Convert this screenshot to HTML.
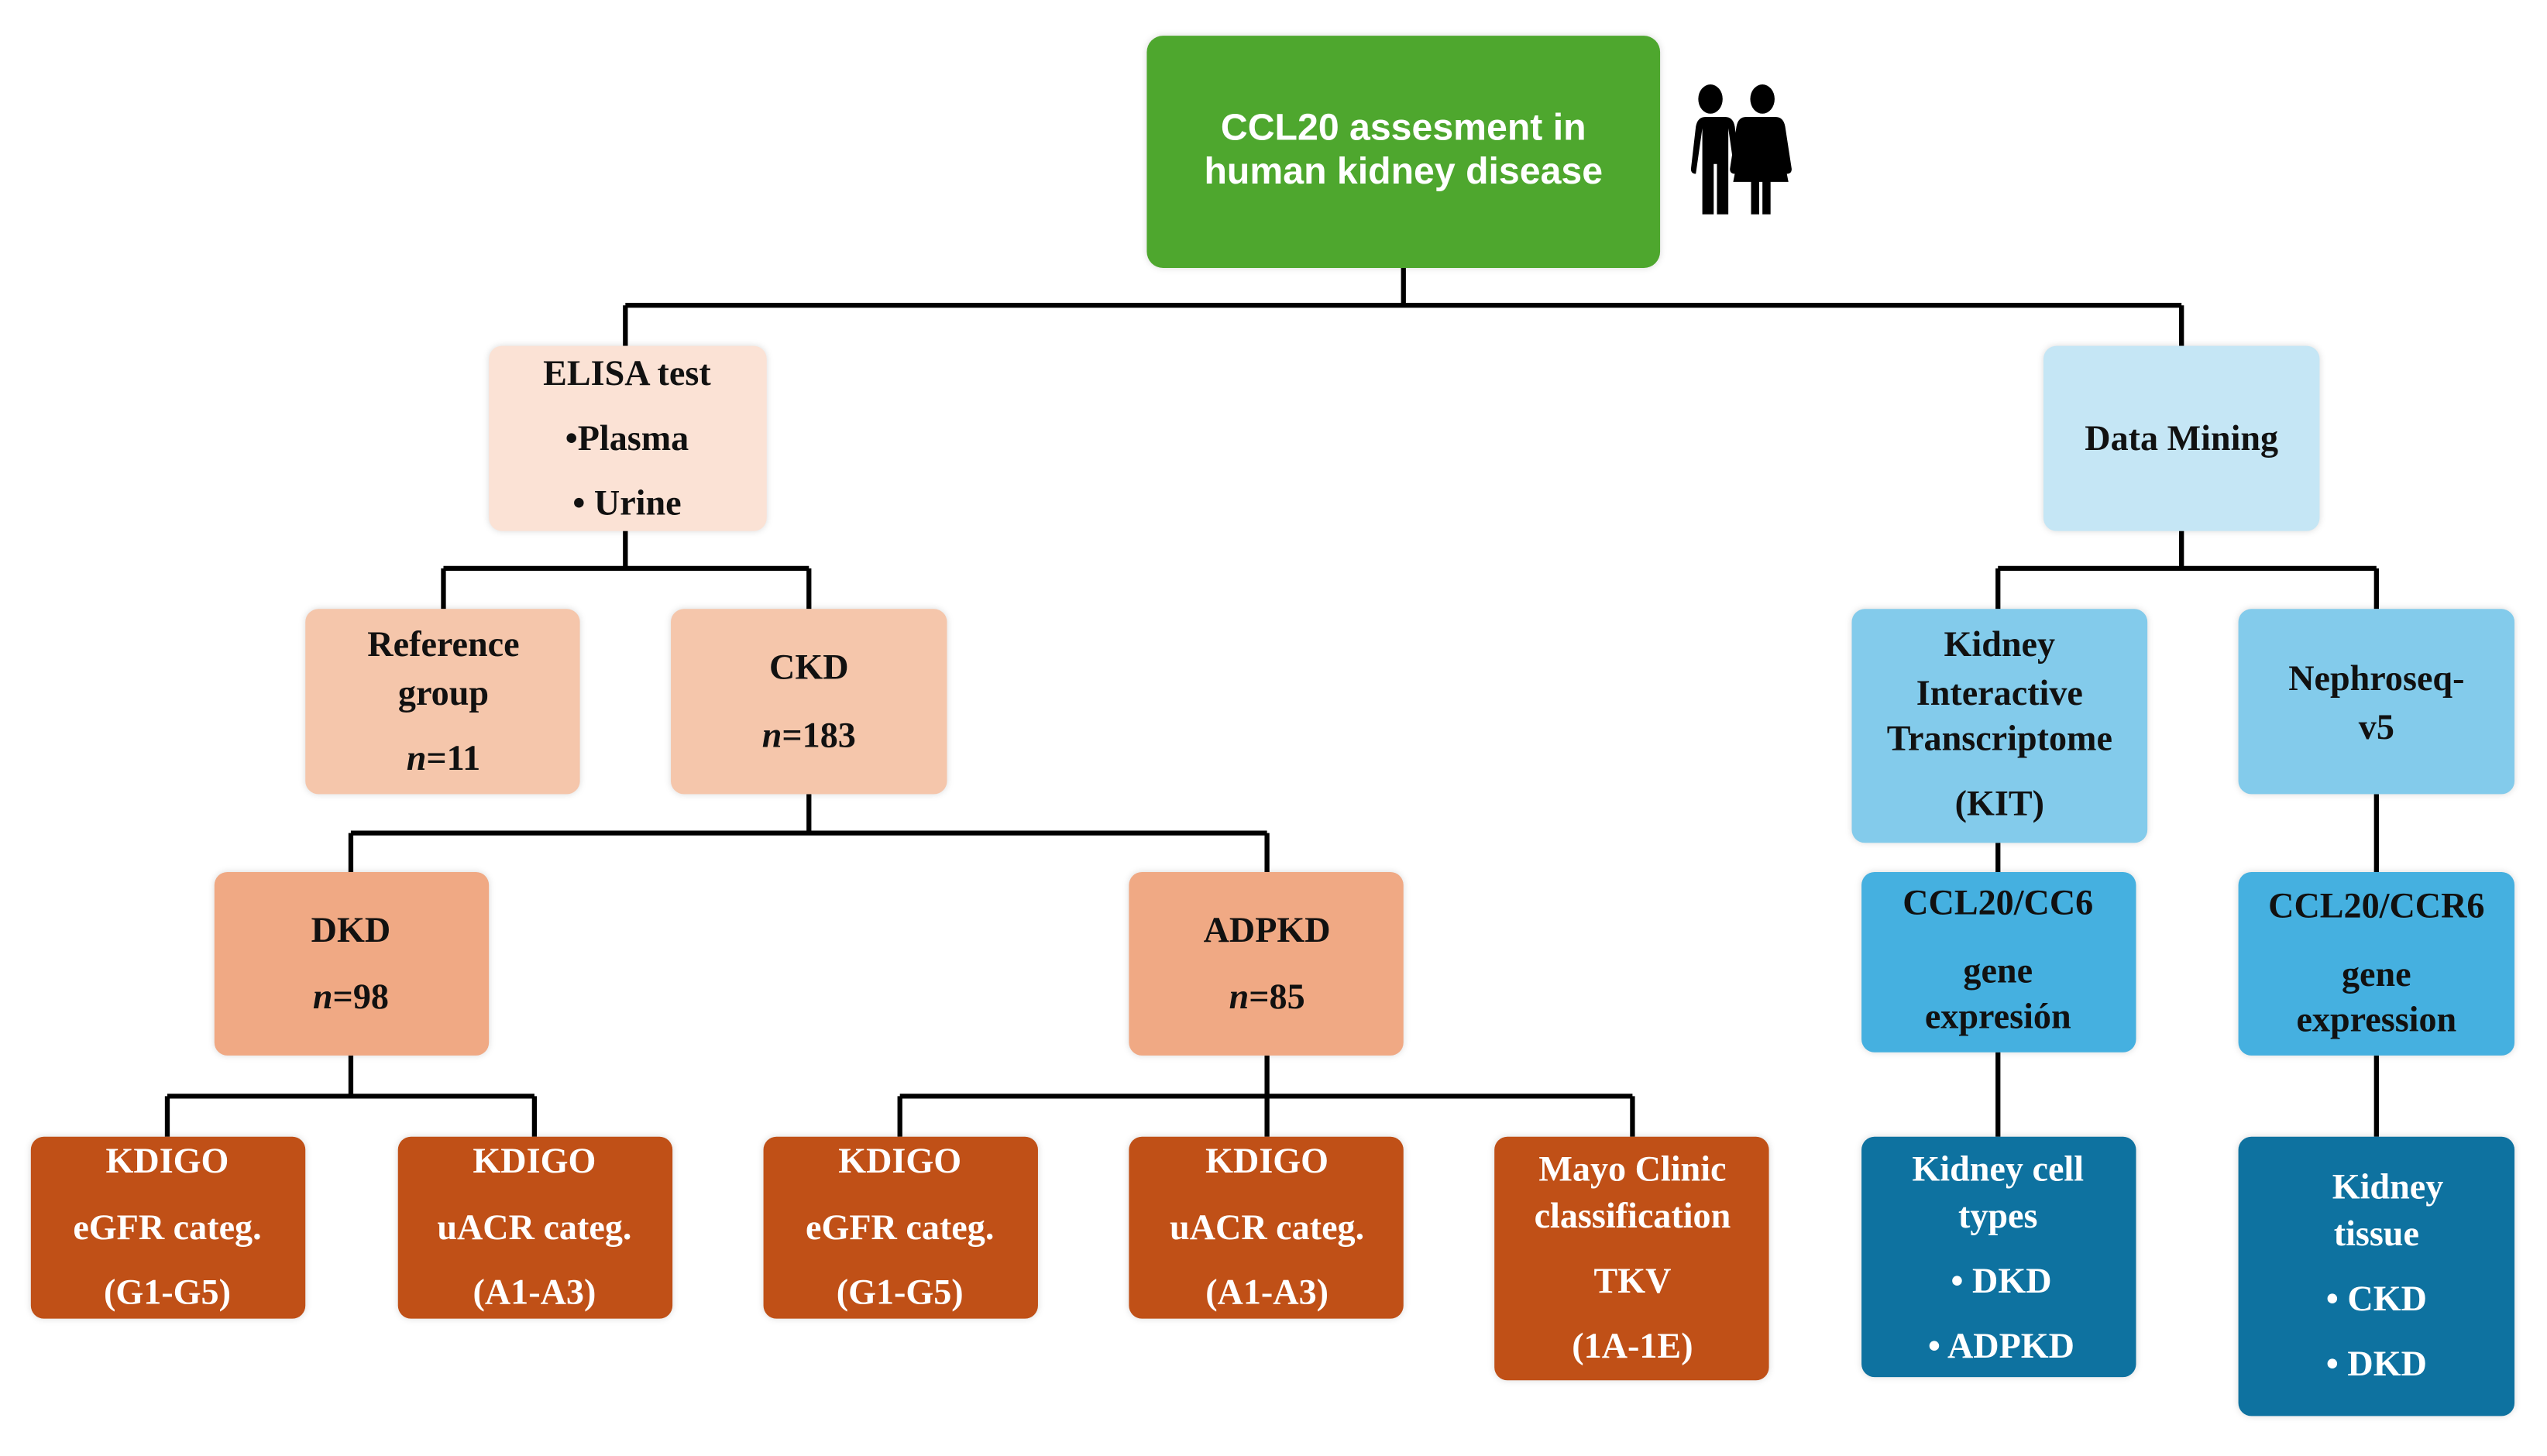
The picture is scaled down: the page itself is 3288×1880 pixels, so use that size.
<!DOCTYPE html>
<html><head><meta charset="utf-8"><style>
html,body{margin:0;padding:0;background:#fff;}
svg{display:block;}
.s{font-family:"Liberation Serif",serif;font-weight:bold;font-size:22px;text-anchor:middle;fill:#111;}
.w{fill:#fff;}
.g{font-family:"Liberation Sans",sans-serif;font-weight:bold;font-size:23px;text-anchor:middle;fill:#fff;}
.b{filter:drop-shadow(0 0 2px rgba(0,0,0,0.15));}
</style></head><body>
<svg width="3288" height="1880" viewBox="0 0 1568 896.6" preserveAspectRatio="none">
<g stroke="#000" stroke-width="3" fill="none">
<path d="M864 165V188M385 188H1343M385 188V213M1343 188V213"/>
<path d="M385 327V350M273 350H498M273 350V375M498 350V375"/>
<path d="M1343 327V350M1230 350H1463M1230 350V375M1463 350V375"/>
<path d="M498 489V513M216 513H780M216 513V537M780 513V537"/>
<path d="M1230 519V537M1463 489V537"/>
<path d="M216 650V675M103 675H329M103 675V700M329 675V700"/>
<path d="M780 650V700M554 675H1005M554 675V700M1005 675V700"/>
<path d="M1230 648V700M1463 650V700"/>
</g>
<g class="b">
<rect x="706" y="22" width="316" height="143" rx="10" fill="#4ea72e"/>
<rect x="301" y="213" width="171" height="114" rx="8" fill="#fbe2d5"/>
<rect x="1258" y="213" width="170" height="114" rx="8" fill="#c5e6f5"/>
<rect x="188" y="375" width="169" height="114" rx="8" fill="#f5c6ab"/>
<rect x="413" y="375" width="170" height="114" rx="8" fill="#f5c6ab"/>
<rect x="1140" y="375" width="182" height="144" rx="8" fill="#83cbeb"/>
<rect x="1378" y="375" width="170" height="114" rx="8" fill="#83cbeb"/>
<rect x="132" y="537" width="169" height="113" rx="8" fill="#f0a984"/>
<rect x="695" y="537" width="169" height="113" rx="8" fill="#f0a984"/>
<rect x="1146" y="537" width="169" height="111" rx="8" fill="#45b0e0"/>
<rect x="1378" y="537" width="170" height="113" rx="8" fill="#45b0e0"/>
<rect x="19" y="700" width="169" height="112" rx="8" fill="#c05017"/>
<rect x="245" y="700" width="169" height="112" rx="8" fill="#c05017"/>
<rect x="470" y="700" width="169" height="112" rx="8" fill="#c05017"/>
<rect x="695" y="700" width="169" height="112" rx="8" fill="#c05017"/>
<rect x="920" y="700" width="169" height="150" rx="8" fill="#c05017"/>
<rect x="1146" y="700" width="169" height="148" rx="8" fill="#0e72a0"/>
<rect x="1378" y="700" width="170" height="172" rx="8" fill="#0e72a0"/>
</g>
<!-- people -->
<g fill="#000">
<ellipse cx="1053" cy="61" rx="7.5" ry="9"/>
<path d="M1044 72h18q5 0 6 6l3 26q0 3-3 3l-4-28v53h-7v-31h-2v31h-7v-53l-4 28q-3 0-3-3l3-26q1-6 6-6z"/>
<ellipse cx="1085" cy="61" rx="7.5" ry="9"/>
<path d="M1077 72h16q5 0 6 6l4 26q0 3-3 3l-5-26 6 31h-11v20h-5v-20h-2v20h-5v-20h-11l6-31-5 26q-3 0-3-3l4-26q1-6 6-6z"/>
</g>
<text class="g" x="864" y="86">CCL20 assesment in</text>
<text class="g" x="864" y="113">human kidney disease</text>
<text class="s" x="386" y="237">ELISA test</text>
<text class="s" x="386" y="277">•Plasma</text>
<text class="s" x="386" y="317">• Urine</text>
<text class="s" x="1343" y="277">Data Mining</text>
<text class="s" x="273" y="404">Reference</text>
<text class="s" x="273" y="434">group</text>
<text class="s" x="273" y="474"><tspan font-style="italic">n</tspan>=11</text>
<text class="s" x="498" y="418">CKD</text>
<text class="s" x="498" y="460"><tspan font-style="italic">n</tspan>=183</text>
<text class="s" x="1231" y="404">Kidney</text>
<text class="s" x="1231" y="434">Interactive</text>
<text class="s" x="1231" y="462">Transcriptome</text>
<text class="s" x="1231" y="502">(KIT)</text>
<text class="s" x="1463" y="425">Nephroseq-</text>
<text class="s" x="1463" y="455">v5</text>
<text class="s" x="216" y="580">DKD</text>
<text class="s" x="216" y="621"><tspan font-style="italic">n</tspan>=98</text>
<text class="s" x="780" y="580">ADPKD</text>
<text class="s" x="780" y="621"><tspan font-style="italic">n</tspan>=85</text>
<text class="s" x="1230" y="563">CCL20/CC6</text>
<text class="s" x="1230" y="605">gene</text>
<text class="s" x="1230" y="633">expresión</text>
<text class="s" x="1463" y="565">CCL20/CCR6</text>
<text class="s" x="1463" y="607">gene</text>
<text class="s" x="1463" y="635">expression</text>
<g>
<text class="s w" x="103" y="722">KDIGO</text>
<text class="s w" x="103" y="763">eGFR categ.</text>
<text class="s w" x="103" y="803">(G1-G5)</text>
<text class="s w" x="329" y="722">KDIGO</text>
<text class="s w" x="329" y="763">uACR categ.</text>
<text class="s w" x="329" y="803">(A1-A3)</text>
<text class="s w" x="554" y="722">KDIGO</text>
<text class="s w" x="554" y="763">eGFR categ.</text>
<text class="s w" x="554" y="803">(G1-G5)</text>
<text class="s w" x="780" y="722">KDIGO</text>
<text class="s w" x="780" y="763">uACR categ.</text>
<text class="s w" x="780" y="803">(A1-A3)</text>
<text class="s w" x="1005" y="727">Mayo Clinic</text>
<text class="s w" x="1005" y="756">classification</text>
<text class="s w" x="1005" y="796">TKV</text>
<text class="s w" x="1005" y="836">(1A-1E)</text>
<text class="s w" x="1230" y="727">Kidney cell</text>
<text class="s w" x="1230" y="756">types</text>
<text class="s w" x="1232" y="796">• DKD</text>
<text class="s w" x="1232" y="836">• ADPKD</text>
<text class="s w" x="1470" y="738">Kidney</text>
<text class="s w" x="1463" y="767">tissue</text>
<text class="s w" x="1463" y="807">• CKD</text>
<text class="s w" x="1463" y="847">• DKD</text>
</g>
</svg>
</body></html>
